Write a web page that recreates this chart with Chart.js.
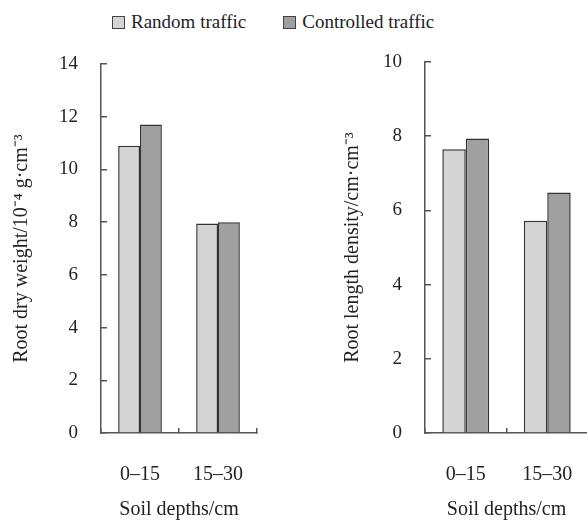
<!DOCTYPE html>
<html>
<head>
<meta charset="utf-8">
<script src="https://cdn.jsdelivr.net/npm/chart.js@4"></script>
<style>
    body { margin: 0; background: #fff; }
    #page { position: relative; width: 587px; height: 522px; overflow: hidden; font-family: "Liberation Serif", "Times New Roman", serif; }
    #legend { position: absolute; top: 11px; left: 112px; display: flex; gap: 37px; font-size: 19px; color: #222; }
    .item { display: flex; align-items: center; }
    .box { width: 11px; height: 11px; border: 1px solid #444; margin-right: 6px; }
    #leftWrap { position: absolute; left: 0; top: 40px; width: 270px; height: 482px; }
    #rightWrap { position: absolute; left: 300px; top: 40px; width: 288px; height: 482px; }
</style>
</head>
<body>
<div id="page">
    <div id="legend"></div>
    <div id="leftWrap"><canvas id="dryWeightChart"></canvas></div>
    <div id="rightWrap"><canvas id="lengthChart"></canvas></div>
</div>
<script>
// Datos
const depthLabels = ['0–15', '15–30'];
const seriesNames = ['Random traffic', 'Controlled traffic'];
const dryWeightRandom = [10.9, 7.95];
const dryWeightControlled = [11.7, 8.0];
const lengthRandom = [7.65, 5.72];
const lengthControlled = [7.94, 6.48];
const seriesColors = ['#d4d4d4', '#a0a0a0'];

const fontFamily = '"Liberation Serif", "Times New Roman", serif';

// Leyenda compartida arriba
const legend = document.getElementById('legend');
seriesNames.forEach((name, i) => {
    legend.innerHTML += `<span class="item"><span class="box" style="background:${seriesColors[i]}"></span>${name}</span>`;
});

// Quitar el relleno automático de las escalas para controlar el área del gráfico
function noScalePadding(scale) {
    scale.paddingTop = 0;
    scale.paddingBottom = 0;
    scale.paddingLeft = 0;
    scale.paddingRight = 0;
}

function makeChart(id, randomVals, controlledVals, yMax, yTitle, opts) {
    const ctx = document.getElementById(id).getContext('2d');
    return new Chart(ctx, {
        type: 'bar',
        data: {
            labels: depthLabels,
            datasets: [
                { label: seriesNames[0], data: randomVals, backgroundColor: seriesColors[0], borderColor: '#333', borderWidth: 1.5, borderSkipped: 'bottom' },
                { label: seriesNames[1], data: controlledVals, backgroundColor: seriesColors[1], borderColor: '#333', borderWidth: 1.5, borderSkipped: 'bottom' }
            ]
        },
        options: {
            responsive: true,
            maintainAspectRatio: false,
            animation: false,
            layout: { padding: { top: opts.padTop, right: opts.padRight, left: 0, bottom: 0 } },
            datasets: { bar: { categoryPercentage: opts.catPct, barPercentage: 1.0 } },
            plugins: { legend: { display: false }, tooltip: { enabled: false } },
            scales: {
                x: {
                    offset: true,
                    grid: { offset: true, drawOnChartArea: false, drawTicks: true, tickLength: -5, color: '#555', lineWidth: 1.5 },
                    border: { display: true, color: '#555', width: 1.5 },
                    ticks: { color: '#222', padding: 35, font: { family: fontFamily, size: 20 } },
                    title: { display: true, text: 'Soil depths/cm', color: '#222', padding: { top: 0, bottom: 0 }, font: { family: fontFamily, size: 20 } },
                    afterFit: scale => { scale.height = 89; noScalePadding(scale); }
                },
                y: {
                    min: 0,
                    max: yMax,
                    ticks: { stepSize: 2, color: '#222', padding: 29, font: { family: fontFamily, size: 19 } },
                    grid: { drawOnChartArea: false, drawTicks: true, tickLength: -6, color: '#555', lineWidth: 1.5 },
                    border: { display: true, color: '#555', width: 1.5 },
                    title: { display: true, text: yTitle, color: '#222', padding: { top: opts.titlePad, bottom: 0 }, font: { family: fontFamily, size: 20 } },
                    afterFit: scale => { scale.width = opts.yWidth; noScalePadding(scale); }
                }
            }
        }
    });
}

makeChart('dryWeightChart', dryWeightRandom, dryWeightControlled, 14,
    'Root dry weight/10⁻⁴ g·cm⁻³',
    { padTop: 24, padRight: 13, catPct: 0.56, yWidth: 101, titlePad: 10 });

makeChart('lengthChart', lengthRandom, lengthControlled, 10,
    'Root length density/cm·cm⁻³',
    { padTop: 22, padRight: 0, catPct: 0.575, yWidth: 125, titlePad: 41 });
</script>
</body>
</html>
